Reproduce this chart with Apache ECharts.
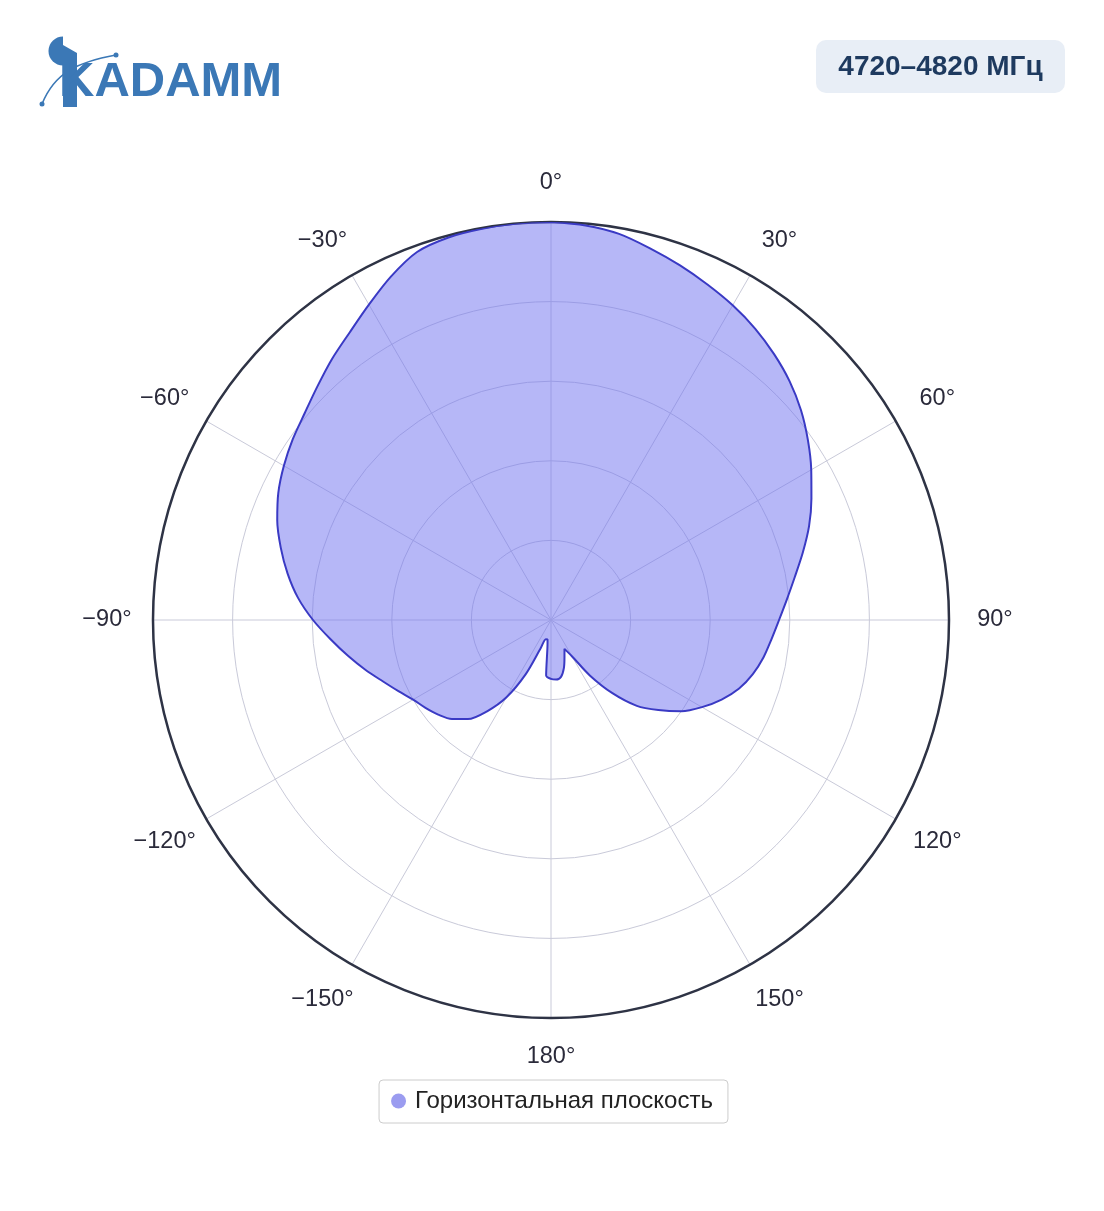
<!DOCTYPE html>
<html>
<head>
<meta charset="utf-8">
<script src="https://cdn.jsdelivr.net/npm/echarts@6/dist/echarts.min.js"></script>
<style>
html,body{margin:0;padding:0;background:#fff;}
#chart{width:1104px;height:1211px;}
</style>
</head>
<body>
<div id="chart"></div>
<script>
// Angles in degrees, clockwise from top (0°), 0..360
const angles = [0,5,10,15,20,25,30,35,40,45,50,55,60,65,70,75,80,85,90,95,100,105,110,115,120,125,130,135,140,145,150,155,160,165,170,175,180,185,188,190,195,200,205,210,215,220,225,230,235,240,245,250,255,260,265,270,275,280,285,290,295,300,305,310,315,320,325,330,335,340,345,350,355,360];
// Relative gain (linear, 0..1)
const gain = [1.0,0.995,0.985,0.966,0.948,0.93,0.913,0.894,0.872,0.848,0.82,0.788,0.755,0.722,0.69,0.655,0.622,0.595,0.573,0.556,0.542,0.525,0.503,0.473,0.438,0.40,0.352,0.305,0.24,0.17,0.105,0.08,0.099,0.125,0.145,0.15,0.148,0.14,0.063,0.05,0.05,0.075,0.15,0.225,0.28,0.325,0.352,0.37,0.385,0.40,0.423,0.45,0.483,0.518,0.556,0.598,0.638,0.672,0.703,0.732,0.756,0.775,0.792,0.808,0.83,0.856,0.882,0.915,0.952,0.984,0.995,0.998,1.0,1.0];
const angleTicks = [0,30,60,90,120,150,180,210,240,270,300,330];
const seriesName = 'Горизонтальная плоскость';
const bandLabel = '4720–4820 МГц';
const brand = 'KADAMM';

const chart = echarts.init(document.getElementById('chart'), null, {renderer:'canvas'});
const FONT = "'Liberation Sans', Arial, sans-serif";

const data = angles.map((a,i)=>[gain[i], a]);

chart.setOption({
  backgroundColor:'#ffffff',
  animation:false,
  polar:{ center:[551,620], radius:398 },
  angleAxis:{
    type:'value', min:0, max:360, interval:30, startAngle:90, clockwise:true,
    axisLine:{show:true, lineStyle:{color:'#2e3345', width:2.5}},
    axisTick:{show:false},
    axisLabel:{
      show:true, margin:33, fontSize:23.5, color:'#2a2a3a', fontFamily:FONT,
      formatter:function(v){ const s = v>180 ? '\u2212'+(360-v)+'°' : v+'°'; return '{t|'+s+'}'; },
      rich:{ t:{ width:26, height:12, lineHeight:12, align:'center', fontSize:23.5, color:'#2a2a3a', fontFamily:FONT } }
    },
    splitLine:{show:true, lineStyle:{color:'#c9cad9', width:1}}
  },
  radiusAxis:{
    type:'value', min:0, max:1, interval:0.2,
    axisLine:{show:false}, axisTick:{show:false}, axisLabel:{show:false},
    splitLine:{show:true, lineStyle:{color:'#c9cad9', width:1}}
  },
  legend:{
    show:true, top:1080, left:'center',
    data:[{name:seriesName, icon:'circle', itemStyle:{color:'#9b9cf0', borderWidth:0}}],
    itemWidth:15, itemHeight:15, itemGap:8,
    padding:[9,15,10,12], borderColor:'#cccccc', borderWidth:1, borderRadius:4,
    textStyle:{fontSize:24, color:'#222', fontFamily:FONT, padding:[0,0,0,4]}
  },
  series:[{
    name:seriesName, type:'line', coordinateSystem:'polar',
    data:data, showSymbol:false, symbol:'none', smooth:0.3,
    lineStyle:{color:'#3a3ac4', width:2},
    itemStyle:{color:'#9b9cf0'},
    areaStyle:{color:'#6e70f0', opacity:0.5},
    z:3
  }],
  graphic:[
    { type:'rect', shape:{x:816,y:40,width:249,height:53,r:10}, style:{fill:'#e8eef6'} },
    { type:'text', x:940.5, y:67, style:{text:bandLabel, font:"bold 28px 'Liberation Sans', Arial, sans-serif", fill:'#1e3a5f', align:'center', verticalAlign:'middle'} },
    // logo
    { type:'sector', shape:{cx:63,cy:51,r:14.5,r0:0,startAngle:Math.PI/2,endAngle:Math.PI*1.5}, style:{fill:'#3b78b6'} },
    { type:'bezierCurve', shape:{x1:42,y1:104,cpx1:55,cpy1:72,cpx2:78,cpy2:62,x2:116,y2:55}, style:{stroke:'#3b78b6', lineWidth:1.6, fill:null} },
    { type:'circle', shape:{cx:42,cy:104,r:2.5}, style:{fill:'#3b78b6'} },
    { type:'circle', shape:{cx:116,cy:55,r:2.5}, style:{fill:'#3b78b6'} },
    { type:'polygon', shape:{points:[[63,45],[77,53],[77,107],[63,107]]}, style:{fill:'#3b78b6'} },
    { type:'text', x:59, y:107, style:{text:brand, font:"bold 49px 'Liberation Sans', Arial, sans-serif", fill:'#3b78b6', align:'left', verticalAlign:'bottom'} }
  ]
});
</script>
</body>
</html>
